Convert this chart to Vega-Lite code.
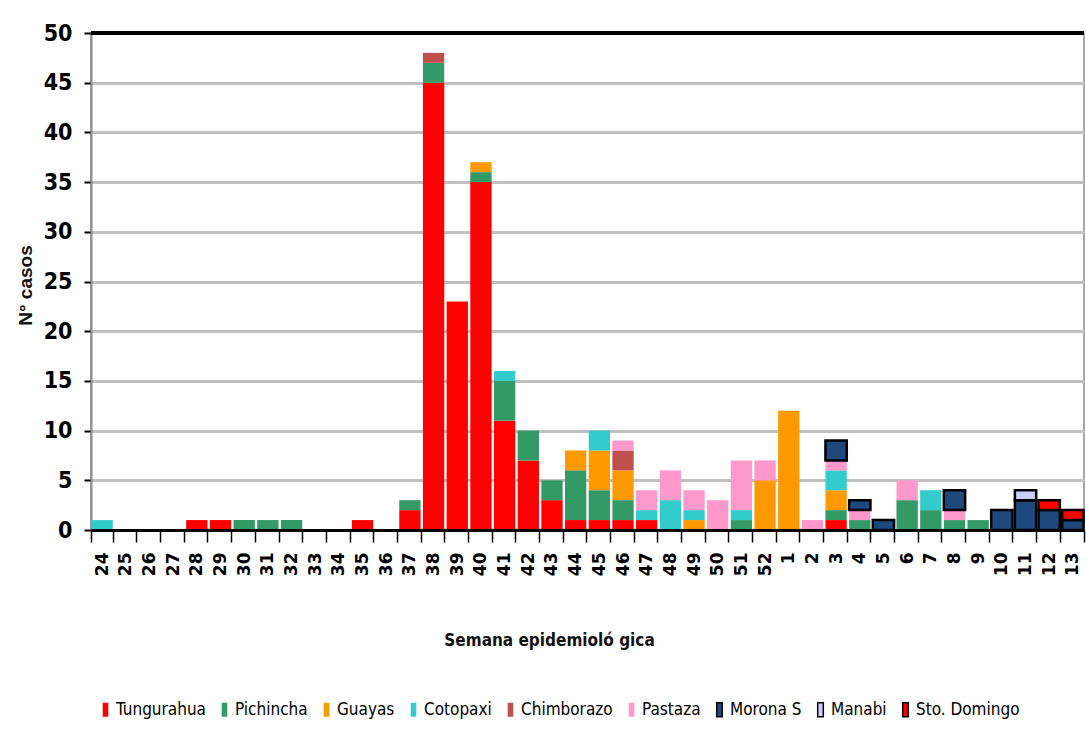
{
  "$schema": "https://vega.github.io/schema/vega-lite/v6.json",
  "width": 993,
  "height": 497,
  "autosize": {"type": "none"},
  "padding": {"left": 91, "top": 33, "right": 2, "bottom": 205},
  "background": "white",
  "config": {
    "view": {"stroke": "#8c8c8c", "strokeWidth": 1.5}
  },
  "data": {
    "values": [
      {"w": "24", "prov": "Cotopaxi", "n": 1},
      {"w": "28", "prov": "Tungurahua", "n": 1},
      {"w": "29", "prov": "Tungurahua", "n": 1},
      {"w": "30", "prov": "Pichincha", "n": 1},
      {"w": "31", "prov": "Pichincha", "n": 1},
      {"w": "32", "prov": "Pichincha", "n": 1},
      {"w": "35", "prov": "Tungurahua", "n": 1},
      {"w": "37", "prov": "Tungurahua", "n": 2},
      {"w": "37", "prov": "Pichincha", "n": 1},
      {"w": "38", "prov": "Tungurahua", "n": 45},
      {"w": "38", "prov": "Pichincha", "n": 2},
      {"w": "38", "prov": "Chimborazo", "n": 1},
      {"w": "39", "prov": "Tungurahua", "n": 23},
      {"w": "40", "prov": "Tungurahua", "n": 35},
      {"w": "40", "prov": "Pichincha", "n": 1},
      {"w": "40", "prov": "Guayas", "n": 1},
      {"w": "41", "prov": "Tungurahua", "n": 11},
      {"w": "41", "prov": "Pichincha", "n": 4},
      {"w": "41", "prov": "Cotopaxi", "n": 1},
      {"w": "42", "prov": "Tungurahua", "n": 7},
      {"w": "42", "prov": "Pichincha", "n": 3},
      {"w": "43", "prov": "Tungurahua", "n": 3},
      {"w": "43", "prov": "Pichincha", "n": 2},
      {"w": "44", "prov": "Tungurahua", "n": 1},
      {"w": "44", "prov": "Pichincha", "n": 5},
      {"w": "44", "prov": "Guayas", "n": 2},
      {"w": "45", "prov": "Tungurahua", "n": 1},
      {"w": "45", "prov": "Pichincha", "n": 3},
      {"w": "45", "prov": "Guayas", "n": 4},
      {"w": "45", "prov": "Cotopaxi", "n": 2},
      {"w": "46", "prov": "Tungurahua", "n": 1},
      {"w": "46", "prov": "Pichincha", "n": 2},
      {"w": "46", "prov": "Guayas", "n": 3},
      {"w": "46", "prov": "Chimborazo", "n": 2},
      {"w": "46", "prov": "Pastaza", "n": 1},
      {"w": "47", "prov": "Tungurahua", "n": 1},
      {"w": "47", "prov": "Cotopaxi", "n": 1},
      {"w": "47", "prov": "Pastaza", "n": 2},
      {"w": "48", "prov": "Cotopaxi", "n": 3},
      {"w": "48", "prov": "Pastaza", "n": 3},
      {"w": "49", "prov": "Guayas", "n": 1},
      {"w": "49", "prov": "Cotopaxi", "n": 1},
      {"w": "49", "prov": "Pastaza", "n": 2},
      {"w": "50", "prov": "Pastaza", "n": 3},
      {"w": "51", "prov": "Pichincha", "n": 1},
      {"w": "51", "prov": "Cotopaxi", "n": 1},
      {"w": "51", "prov": "Pastaza", "n": 5},
      {"w": "52", "prov": "Guayas", "n": 5},
      {"w": "52", "prov": "Pastaza", "n": 2},
      {"w": "1", "prov": "Guayas", "n": 12},
      {"w": "2", "prov": "Pastaza", "n": 1},
      {"w": "3", "prov": "Tungurahua", "n": 1},
      {"w": "3", "prov": "Pichincha", "n": 1},
      {"w": "3", "prov": "Guayas", "n": 2},
      {"w": "3", "prov": "Cotopaxi", "n": 2},
      {"w": "3", "prov": "Pastaza", "n": 1},
      {"w": "3", "prov": "Morona S", "n": 2},
      {"w": "4", "prov": "Pichincha", "n": 1},
      {"w": "4", "prov": "Pastaza", "n": 1},
      {"w": "4", "prov": "Morona S", "n": 1},
      {"w": "5", "prov": "Morona S", "n": 1},
      {"w": "6", "prov": "Pichincha", "n": 3},
      {"w": "6", "prov": "Pastaza", "n": 2},
      {"w": "7", "prov": "Pichincha", "n": 2},
      {"w": "7", "prov": "Cotopaxi", "n": 2},
      {"w": "8", "prov": "Pichincha", "n": 1},
      {"w": "8", "prov": "Pastaza", "n": 1},
      {"w": "8", "prov": "Morona S", "n": 2},
      {"w": "9", "prov": "Pichincha", "n": 1},
      {"w": "10", "prov": "Morona S", "n": 2},
      {"w": "11", "prov": "Morona S", "n": 3},
      {"w": "11", "prov": "Manabi", "n": 1},
      {"w": "12", "prov": "Morona S", "n": 2},
      {"w": "12", "prov": "Sto. Domingo", "n": 1},
      {"w": "13", "prov": "Morona S", "n": 1},
      {"w": "13", "prov": "Sto. Domingo", "n": 1}
    ]
  },
  "layer": [
    {
      "transform": [
        {"calculate": "indexof(['Tungurahua','Pichincha','Guayas','Cotopaxi','Chimborazo','Pastaza','Morona S','Manabi','Sto. Domingo'], datum.prov)", "as": "ord"}
      ],
      "mark": {"type": "bar", "strokeWidth": 2.5},
      "encoding": {
        "x": {
          "field": "w",
          "type": "nominal",
          "scale": {
            "domain": ["24","25","26","27","28","29","30","31","32","33","34","35","36","37","38","39","40","41","42","43","44","45","46","47","48","49","50","51","52","1","2","3","4","5","6","7","8","9","10","11","12","13"],
            "paddingInner": 0.1,
            "paddingOuter": 0.02
          },
          "axis": {
            "zindex": 1,
            "title": "Semana epidemioló gica",
            "titleFont": "'DejaVu Sans Condensed', 'Liberation Sans', sans-serif",
            "titleFontSize": 17,
            "titleFontWeight": "bold",
            "titleColor": "#111111",
            "titleX": 458,
            "titleY": 110,
            "titleAlign": "center",
            "titleBaseline": "middle",
            "labelAngle": 270,
            "labelFont": "DejaVu Sans",
            "labelFontWeight": "bold",
            "labelFontSize": 17,
            "labelColor": "black",
            "labelPadding": 10,
            "labelOverlap": false,
            "tickBand": "extent",
            "tickSize": 12,
            "tickColor": "black",
            "tickWidth": 1.5,
            "domainColor": "black",
            "domainWidth": 3
          }
        },
        "y": {
          "field": "n",
          "type": "quantitative",
          "aggregate": "sum",
          "stack": "zero",
          "scale": {"domain": [0, 50], "nice": false},
          "axis": {
            "values": [0, 5, 10, 15, 20, 25, 30, 35, 40, 45, 50],
            "title": "N° casos",
            "titleFont": "Liberation Sans",
            "titleFontSize": 19,
            "titleFontWeight": "bold",
            "titleColor": "#111111",
            "titleX": -66,
            "titleY": 252,
            "titleAngle": 270,
            "titleAlign": "center",
            "titleBaseline": "middle",
            "labelFont": "'DejaVu Sans Condensed', 'Liberation Sans', sans-serif",
            "labelFontWeight": "bold",
            "labelFontSize": 23,
            "labelColor": "black",
            "labelPadding": 12,
            "tickSize": 7,
            "tickColor": "black",
            "tickWidth": 2,
            "domainColor": "#8c8c8c",
            "domainWidth": 2,
            "grid": true,
            "gridColor": "#c0c0c0",
            "gridWidth": 3
          }
        },
        "color": {
          "field": "prov",
          "type": "nominal",
          "scale": {
            "domain": ["Tungurahua","Pichincha","Guayas","Cotopaxi","Chimborazo","Pastaza","Morona S","Manabi","Sto. Domingo"],
            "range": ["#ff0000","#339966","#ff9900","#33cccc","#c0504d","#ff99cc","#1f497d","#ccccff","#ff0000"]
          },
          "legend": {
            "orient": "none",
            "legendX": 6,
            "legendY": 668,
            "direction": "horizontal",
            "columns": 9,
            "title": null,
            "labelFont": "'DejaVu Sans Condensed', 'Liberation Sans', sans-serif",
            "labelFontSize": 17,
            "labelColor": "black",
            "labelOffset": 2,
            "columnPadding": 10,
            "symbolType": "M-0.4,-1L0.4,-1L0.4,1L-0.4,1Z",
            "symbolSize": 196,
            "symbolStrokeWidth": 1.5
          }
        },
        "stroke": {
          "field": "prov",
          "type": "nominal",
          "scale": {
            "domain": ["Tungurahua","Pichincha","Guayas","Cotopaxi","Chimborazo","Pastaza","Morona S","Manabi","Sto. Domingo"],
            "range": ["transparent","transparent","transparent","transparent","transparent","transparent","#000000","#000000","#000000"]
          },
          "legend": {
            "orient": "none",
            "legendX": 6,
            "legendY": 668,
            "direction": "horizontal",
            "columns": 9,
            "title": null,
            "labelFont": "'DejaVu Sans Condensed', 'Liberation Sans', sans-serif",
            "labelFontSize": 17,
            "labelColor": "black",
            "labelOffset": 2,
            "columnPadding": 10,
            "symbolType": "M-0.4,-1L0.4,-1L0.4,1L-0.4,1Z",
            "symbolSize": 196,
            "symbolStrokeWidth": 1.5
          }
        },
        "order": {"field": "ord", "type": "quantitative"}
      }
    },
    {
      "mark": {"type": "rule", "color": "black", "strokeWidth": 3},
      "encoding": {"y": {"datum": 50}}
    }
  ]
}
